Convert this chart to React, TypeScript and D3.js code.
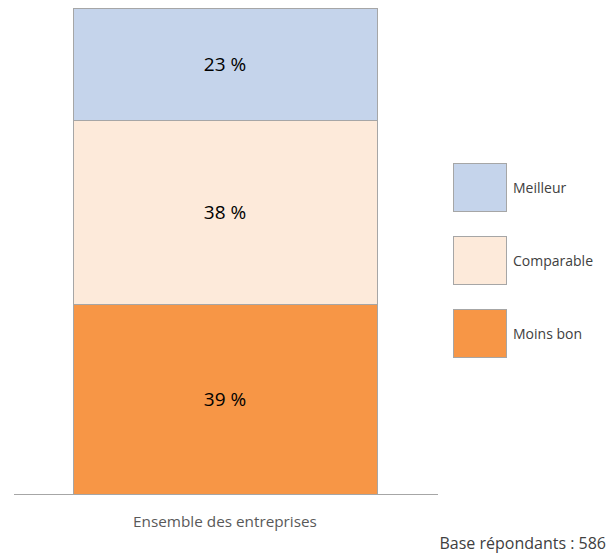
import React, { useEffect, useRef } from 'react';
import * as d3 from 'd3';

// chart data
const categories = ['Ensemble des entreprises'];
const seriesNames = ['Moins bon', 'Comparable', 'Meilleur'];
const seriesValues = [39, 38, 23];
const seriesColors = ['#F79646', '#FDEADA', '#C5D4EB'];
const legendOrder = ['Meilleur', 'Comparable', 'Moins bon'];
const baseNote = 'Base répondants : 586';

const W = 611;
const H = 555;
const FONT = "'Open Sans', 'Noto Sans', sans-serif";

export default function App() {
  const svgRef = useRef<SVGSVGElement>(null);

  useEffect(() => {
    if (!svgRef.current) return;
    const svg = d3.select(svgRef.current);
    svg.selectAll('*').remove();

    const plotTop = 8;
    const plotBottom = 494;

    // one band, the bar fills it
    const x = d3.scaleBand<string>()
      .domain(categories)
      .range([73, 377])
      .padding(0);

    const y = d3.scaleLinear().domain([0, 100]).range([plotBottom, plotTop]);

    // stacked segments
    let acc = 0;
    const segs = seriesValues.map((v, i) => {
      const s = { name: seriesNames[i], y0: acc, y1: acc + v, value: v, color: seriesColors[i] };
      acc += v;
      return s;
    });

    const g = svg.append('g');
    categories.forEach(cat => {
      const bx = x(cat) as number;
      const bw = x.bandwidth();
      g.selectAll(null)
        .data(segs)
        .enter().append('rect')
        .attr('x', bx + 0.5)
        .attr('y', d => Math.round(y(d.y1)) + 0.5)
        .attr('width', bw)
        .attr('height', d => Math.round(y(d.y0)) - Math.round(y(d.y1)))
        .attr('fill', d => d.color)
        .attr('stroke', '#A6A6A6')
        .attr('stroke-width', 1);

      g.selectAll(null)
        .data(segs)
        .enter().append('text')
        .attr('x', bx + bw / 2)
        .attr('y', d => y((d.y0 + d.y1) / 2))
        .attr('dy', '0.35em')
        .attr('text-anchor', 'middle')
        .attr('font-family', FONT)
        .attr('font-size', 19)
        .attr('fill', '#000')
        .text(d => `${d.value} %`);

      svg.append('text')
        .attr('x', bx + bw / 2)
        .attr('y', 527)
        .attr('text-anchor', 'middle')
        .attr('font-family', FONT)
        .attr('font-size', 15.3)
        .attr('fill', '#595959')
        .text(cat);
    });

    // baseline
    svg.append('line')
      .attr('x1', 14).attr('x2', 438)
      .attr('y1', plotBottom + 0.5).attr('y2', plotBottom + 0.5)
      .attr('stroke', '#A6A6A6')
      .attr('stroke-width', 1);

    // legend
    const legend = svg.append('g');
    legendOrder.forEach((name, i) => {
      const idx = seriesNames.indexOf(name);
      const ly = 163 + i * 73;
      legend.append('rect')
        .attr('x', 453.5).attr('y', ly + 0.5)
        .attr('width', 53).attr('height', 48)
        .attr('fill', seriesColors[idx])
        .attr('stroke', '#A6A6A6');
      legend.append('text')
        .attr('x', 513)
        .attr('y', ly + 25)
        .attr('dy', '0.35em')
        .attr('font-family', FONT)
        .attr('font-size', 14)
        .attr('fill', '#404040')
        .text(name);
    });

    svg.append('text')
      .attr('x', 606)
      .attr('y', 549)
      .attr('text-anchor', 'end')
      .attr('font-family', FONT)
      .attr('font-size', 16)
      .attr('fill', '#404040')
      .text(baseNote);
  }, []);

  return (
    <svg ref={svgRef} width={W} height={H}
      style={{ position: 'absolute', left: 0, top: 0, background: '#fff' }} />
  );
}
